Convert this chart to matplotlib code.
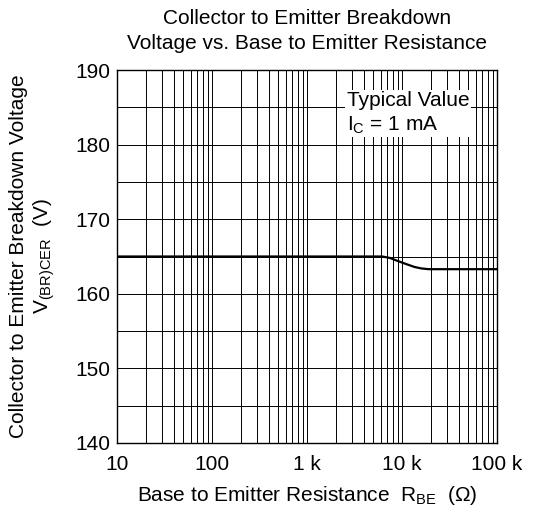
import numpy as np
import matplotlib
matplotlib.use("Agg")
import matplotlib.pyplot as plt

plt.rcParams['font.family'] = ['Liberation Sans', 'DejaVu Sans']
plt.rcParams['mathtext.fontset'] = 'custom'
plt.rcParams['mathtext.rm'] = 'Liberation Sans'
plt.rcParams['mathtext.it'] = 'Liberation Sans'

# curve
r_be = [10, 100, 1000, 5000, 6200, 7500, 9000, 11000, 13500, 16000, 19000, 25000, 100000]
v_br = [165.0, 165.0, 165.0, 165.0, 165.0, 164.8, 164.4, 164.0, 163.6, 163.4, 163.3, 163.3, 163.3]

xticks = [10, 100, 1000, 10000, 100000]
xlabels = ['10', '100', '1 k', '10 k', '100 k']
yticks = [140, 150, 160, 170, 180, 190]

fig = plt.figure(figsize=(5.4, 5.13), dpi=100)
ax = fig.add_axes([117/540, 70/513, 380/540, 373/513])

ax.plot(r_be, v_br, color='black', lw=1.6, zorder=3)
ax.set_xscale('log')
ax.set_xlim(10, 100000)
ax.set_ylim(140, 190)
ax.set_xticks(xticks)
ax.set_xticklabels(xlabels)
ax.set_yticks(yticks)
ax.set_yticks(np.arange(145, 190, 10), minor=True)
ax.xaxis.set_minor_locator(matplotlib.ticker.LogLocator(base=10, subs=np.arange(2, 10)))
ax.xaxis.set_minor_formatter(matplotlib.ticker.NullFormatter())
ax.grid(True, which='both', color='black', lw=0.7)
ax.tick_params(which='both', length=0, labelsize=15, pad=5)
ax.tick_params(axis='x', pad=9)
for s in ax.spines.values():
    s.set_linewidth(1.0)

ax.text(0.605, 0.945, 'Typical Value\nI$_{\\rm C}$ = 1 mA', transform=ax.transAxes,
        fontsize=15, va='top', ha='left', linespacing=1.3, zorder=4,
        bbox=dict(facecolor='white', edgecolor='none', pad=1.0))

ax.set_title('Collector to Emitter Breakdown\nVoltage vs. Base to Emitter Resistance',
             fontsize=15, pad=15, linespacing=1.4)
ax.set_xlabel('Base to Emitter Resistance  R$_{\\rm BE}$  (Ω)', fontsize=15, labelpad=7)
ax.set_ylabel('Collector to Emitter Breakdown Voltage\nV$_{\\rm (BR)CER}$  (V)', fontsize=15,
              labelpad=13, linespacing=1.2)

fig.savefig('out.png', dpi=100)
